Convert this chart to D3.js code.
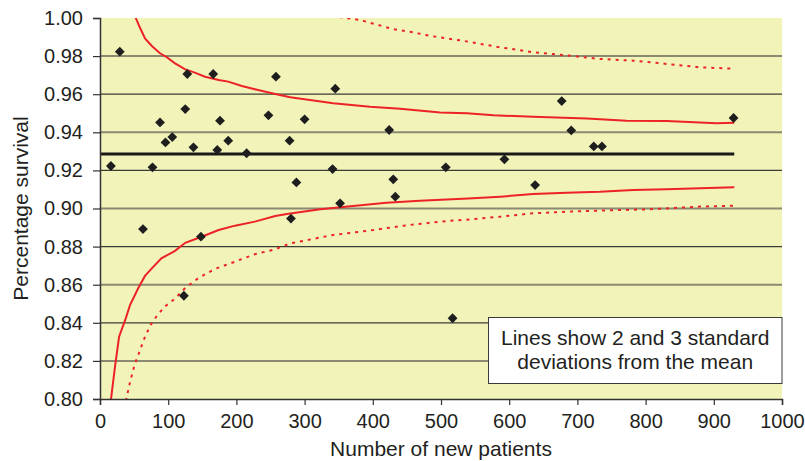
<!DOCTYPE html>
<html>
<head>
<meta charset="utf-8">
<script src="https://cdn.jsdelivr.net/npm/d3@7"></script>
<style>
    body { margin: 0; background: white; }
    svg { display: block; font-family: 'Liberation Sans', Arial, sans-serif; }
</style>
</head>
<body>
<svg id="chart"></svg>
<script>
'use strict';

// hospitals: number of new patients and observed survival
const patients = [16, 29, 63, 77, 88, 96, 106, 123, 125, 128, 137, 148, 166, 172, 176, 188, 215,
    247, 258, 278, 280, 288, 300, 341, 345, 352, 424, 430, 433, 507, 517, 593, 638, 677, 691, 724, 736, 929];
const survival = [0.9223, 0.9823, 0.8892, 0.9216, 0.9452, 0.9347, 0.9375, 0.8542, 0.9522, 0.9706, 0.9321,
    0.8852, 0.9706, 0.9307, 0.9461, 0.9356, 0.9290, 0.9489, 0.9692, 0.9356, 0.8947, 0.9137, 0.9468, 0.9207,
    0.9629, 0.9027, 0.9412, 0.9153, 0.9062, 0.9216, 0.8424, 0.9258, 0.9123, 0.9564, 0.9410, 0.9326, 0.9326, 0.9475];

const meanSurvival = 0.9286;
const meanRange = [0, 930];

// control limits as [patients, survival]
const upper2sd = [[52, 1.0004], [59, 0.9946], [66, 0.9893], [76, 0.9853], [88, 0.9815], [98, 0.9794],
    [110, 0.9762], [125, 0.9730], [139, 0.9713], [154, 0.9692], [174, 0.9675], [188, 0.9666], [208, 0.9643],
    [227, 0.9626], [257, 0.9601], [279, 0.9584], [342, 0.9552], [396, 0.9534], [440, 0.9524], [499, 0.9504],
    [538, 0.9500], [577, 0.9489], [635, 0.9482], [714, 0.9473], [772, 0.9461], [831, 0.9459], [904, 0.9447],
    [930, 0.9450]];
const lower2sd = [[16, 0.7995], [22, 0.8170], [28, 0.8327], [37, 0.8415], [44, 0.8493], [56, 0.8581],
    [66, 0.8646], [76, 0.8686], [90, 0.8738], [110, 0.8778], [125, 0.8820], [149, 0.8852], [174, 0.8887],
    [198, 0.8910], [227, 0.8931], [257, 0.8961], [274, 0.8971], [323, 0.8996], [371, 0.9013], [420, 0.9030],
    [469, 0.9041], [540, 0.9052], [587, 0.9062], [635, 0.9076], [684, 0.9083], [733, 0.9088], [782, 0.9097],
    [831, 0.9101], [880, 0.9106], [930, 0.9111]];
const upper3sd = [[351, 1.0005], [381, 0.9990], [406, 0.9965], [430, 0.9942], [459, 0.9925], [484, 0.9906],
    [533, 0.9880], [582, 0.9849], [635, 0.9820], [679, 0.9806], [733, 0.9785], [782, 0.9776], [831, 0.9759],
    [880, 0.9741], [930, 0.9734]];
const lower3sd = [[38, 0.7990], [44, 0.8088], [51, 0.8183], [59, 0.8260], [66, 0.8327], [74, 0.8388],
    [84, 0.8440], [95, 0.8485], [110, 0.8527], [125, 0.8583], [144, 0.8634], [168, 0.8682], [198, 0.8721],
    [227, 0.8760], [257, 0.8786], [279, 0.8817], [342, 0.8861], [401, 0.8887], [445, 0.8910], [484, 0.8925],
    [513, 0.8936], [533, 0.8940], [587, 0.8957], [635, 0.8975], [684, 0.8983], [733, 0.8989], [807, 0.8996],
    [880, 0.9010], [930, 0.9015]];

const xTicks = [0, 100, 200, 300, 400, 500, 600, 700, 800, 900, 1000];
const yTicks = [0.80, 0.82, 0.84, 0.86, 0.88, 0.90, 0.92, 0.94, 0.96, 0.98, 1.00];
const noteLines = ['Lines show 2 and 3 standard', 'deviations from the mean'];

const width = 805;
const height = 461;
const margin = {top: 18, right: 23, bottom: 62, left: 100};
const red = '#ec2227';

const x = d3.scaleLinear().domain([0, 1000]).range([margin.left, width - margin.right]);
const y = d3.scaleLinear().domain([0.8, 1.0]).range([height - margin.bottom, margin.top]);

const svg = d3.select('#chart')
    .attr('width', width)
    .attr('height', height);

svg.append('defs').append('clipPath')
    .attr('id', 'plot-clip')
    .append('rect')
    .attr('x', x(0))
    .attr('y', y(1))
    .attr('width', x(1000) - x(0))
    .attr('height', y(0.8) - y(1));

svg.append('rect')
    .attr('x', x(0))
    .attr('y', y(1))
    .attr('width', x(1000) - x(0))
    .attr('height', y(0.8) - y(1))
    .attr('fill', '#f2f3b9');

// horizontal grid
svg.append('g')
    .selectAll('line')
    .data(yTicks.filter(t => t > 0.8 && t < 1))
    .join('line')
    .attr('x1', x(0))
    .attr('x2', x(1000))
    .attr('y1', d => y(d))
    .attr('y2', d => y(d))
    .attr('stroke', (d, i) => i % 2 ? '#3c3c36' : '#8a8a72')
    .attr('stroke-width', (d, i) => i % 2 ? 1.2 : 2);

const plot = svg.append('g').attr('clip-path', 'url(#plot-clip)');

const line = d3.line()
    .x(d => x(d[0]))
    .y(d => y(d[1]));

plot.append('line')
    .attr('x1', x(meanRange[0]))
    .attr('x2', x(meanRange[1]))
    .attr('y1', y(meanSurvival))
    .attr('y2', y(meanSurvival))
    .attr('stroke', '#1a1a1a')
    .attr('stroke-width', 2.8);

plot.selectAll('path.limit2')
    .data([upper2sd, lower2sd])
    .join('path')
    .attr('class', 'limit2')
    .attr('d', line)
    .attr('fill', 'none')
    .attr('stroke', red)
    .attr('stroke-width', 2);

plot.selectAll('path.limit3')
    .data([upper3sd, lower3sd])
    .join('path')
    .attr('class', 'limit3')
    .attr('d', line)
    .attr('fill', 'none')
    .attr('stroke', red)
    .attr('stroke-width', 2)
    .attr('stroke-dasharray', '3,5');

const diamond = d3.symbol().type(d3.symbolSquare).size(48);

svg.append('g')
    .selectAll('path')
    .data(patients.map((n, i) => ({n, s: survival[i]})))
    .join('path')
    .attr('d', diamond)
    .attr('transform', d => `translate(${x(d.n)},${y(d.s)}) rotate(45)`)
    .attr('fill', '#1e1e1e');

// axes
const xAxis = svg.append('g')
    .attr('transform', `translate(0,${y(0.8)})`)
    .call(d3.axisBottom(x).tickValues(xTicks).tickSize(6).tickPadding(9).tickFormat(d3.format('d')));
const yAxis = svg.append('g')
    .attr('transform', `translate(${x(0)},0)`)
    .call(d3.axisLeft(y).tickValues(yTicks).tickSize(7).tickPadding(10).tickFormat(d3.format('.2f')));

[xAxis, yAxis].forEach(axis => {
    axis.select('.domain').attr('stroke', '#333').attr('stroke-width', 1.5);
    axis.selectAll('.tick line').attr('stroke', '#333').attr('stroke-width', 1.2);
    axis.selectAll('.tick text')
        .attr('fill', '#231f20')
        .attr('font-size', 20)
        .attr('font-family', "'Liberation Sans', Arial, sans-serif");
});

svg.append('text')
    .attr('x', (x(0) + x(1000)) / 2)
    .attr('y', 456)
    .attr('text-anchor', 'middle')
    .attr('font-size', 21)
    .attr('fill', '#231f20')
    .text('Number of new patients');

svg.append('text')
    .attr('transform', `translate(28,${(y(0.8) + y(1)) / 2}) rotate(-90)`)
    .attr('text-anchor', 'middle')
    .attr('font-size', 21)
    .attr('fill', '#231f20')
    .text('Percentage survival');

// note box
const note = svg.append('g');
note.append('rect')
    .attr('x', 488.5)
    .attr('y', 317.5)
    .attr('width', x(1000) - 488.5)
    .attr('height', 66)
    .attr('fill', 'white')
    .attr('stroke', '#3a3a3a')
    .attr('stroke-width', 1);
note.selectAll('text')
    .data(noteLines)
    .join('text')
    .attr('x', (488.5 + x(1000)) / 2)
    .attr('y', (d, i) => 345 + i * 24)
    .attr('text-anchor', 'middle')
    .attr('font-size', 21)
    .attr('fill', '#231f20')
    .text(d => d);
</script>
</body>
</html>
